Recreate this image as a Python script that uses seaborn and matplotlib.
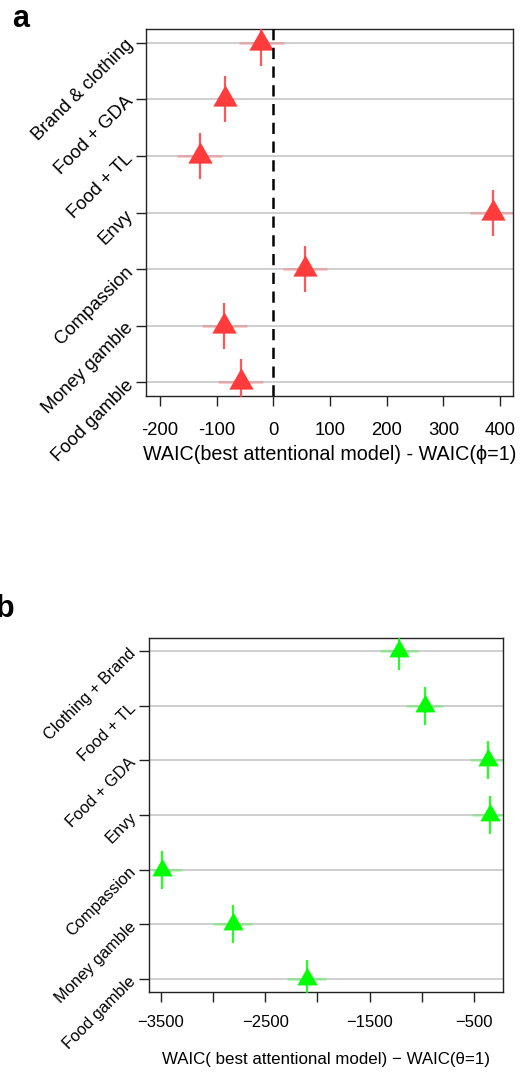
import numpy as np
import matplotlib
matplotlib.use("Agg")
import matplotlib.pyplot as plt
from matplotlib.path import Path
import seaborn as sns

sns.set_theme(style="white")
plt.rcParams["font.family"] = ["Liberation Sans", "DejaVu Sans"]
plt.rcParams["text.color"] = "black"
plt.rcParams["axes.labelcolor"] = "black"
plt.rcParams["xtick.color"] = "black"
plt.rcParams["ytick.color"] = "black"

# Panel a: phi model comparison
cats_a = ["Brand & clothing", "Food + GDA", "Food + TL", "Envy",
          "Compassion", "Money gamble", "Food gamble"]
waic_a = [-22, -85, -130, 387, 55, -87, -57]
lo_a = [-60, -100, -170, 347, 17, -126, -97]
hi_a = [18, -70, -91, 440, 95, -47, -18]
xticks_a = [-200, -100, 0, 100, 200, 300, 400]

# Panel b: theta model comparison
cats_b = ["Clothing + Brand", "Food + TL", "Food + GDA", "Envy",
          "Compassion", "Money gamble", "Food gamble"]
waic_b = [-1217, -974, -365, -349, -3485, -2811, -2103]
lo_b = [-1401, -1153, -540, -524, -3586, -2997, -2289]
hi_b = [-1035, -796, -180, -170, -3299, -2629, -1918]
xticks_b = [-3500, -3000, -2500, -2000, -1500, -1000, -500]
xlabels_b = ["\u22123500", "", "\u22122500", "", "\u22121500", "", "\u2212500"]

RED = "#FF3B3B"
GREEN = "#00FF00"

# filled triangle with its centroid on the data point
tri = Path([(0, 2 / 3), (-0.57, -1 / 3), (0.57, -1 / 3), (0, 2 / 3)],
           [Path.MOVETO, Path.LINETO, Path.LINETO, Path.CLOSEPOLY])


def panel(ax, cats, vals, lo, hi, color, tsize, vsize, lab_fs):
    n = len(cats)
    ypos = np.arange(n, 0, -1)
    for y in ypos:
        ax.axhline(y, color="#CFCFCF", lw=1.4, zorder=1)
    ax.hlines(ypos, lo, hi, color=color, alpha=0.25, lw=2.2, zorder=2)
    ax.plot(vals, ypos, ls="none", marker="|", ms=vsize, mew=1.6,
            color=color, alpha=0.85, zorder=3)
    sns.scatterplot(x=vals, y=ypos, marker=tri, s=tsize ** 2, color=color,
                    linewidth=0, ax=ax, zorder=4, legend=False)
    ax.set_ylim(0.76, n + 0.24)
    ax.set_yticks(ypos)
    ax.set_yticklabels(cats, rotation=45, ha="right", va="center",
                       rotation_mode="anchor", fontsize=lab_fs, color="black")
    for s in ax.spines.values():
        s.set_visible(True)
        s.set_color("#222222")
        s.set_linewidth(1.0)
    ax.tick_params(axis="both", which="major", direction="out", length=7,
                   width=1.0, color="#222222", left=True, bottom=True, pad=4)
    ax.grid(False)


fig = plt.figure(figsize=(5.2, 10.72), dpi=100)

ax_a = fig.add_axes([146 / 520, 1 - 396 / 1072, 367 / 520, 367 / 1072])
panel(ax_a, cats_a, waic_a, lo_a, hi_a, RED, 20.5, 33, 13.3)
ax_a.axvline(0, color="black", lw=1.8, ls=(0, (4.5, 3)), zorder=5)
ax_a.set_xlim(-225, 423)
ax_a.set_xticks(xticks_a)
ax_a.set_xticklabels([str(t) for t in xticks_a], fontsize=13.3, color="black")
ax_a.tick_params(axis="x", pad=12)
ax_a.set_xlabel("WAIC(best attentional model) - WAIC(\u03d5=1)", fontsize=14.2,
                labelpad=4)

ax_b = fig.add_axes([149 / 520, 1 - 992.3 / 1072, 353.7 / 520, 354.6 / 1072])
panel(ax_b, cats_b, waic_b, lo_b, hi_b, GREEN, 17, 27, 11.8)
ax_b.set_xlim(-3612, -228)
ax_b.set_xticks(xticks_b)
ax_b.set_xticklabels(xlabels_b, fontsize=12, color="black")
ax_b.tick_params(axis="x", pad=9)
ax_b.set_xlabel("WAIC( best attentional model) \u2212 WAIC(\u03b8=1)", fontsize=12.2,
                labelpad=16)

fig.text(12 / 520, 1 - 27 / 1072, "a", fontsize=22, fontweight="bold",
         ha="left", va="baseline")
fig.text(-4 / 520, 1 - 617 / 1072, "b", fontsize=22, fontweight="bold",
         ha="left", va="baseline")

fig.savefig("out.png", dpi=100)
